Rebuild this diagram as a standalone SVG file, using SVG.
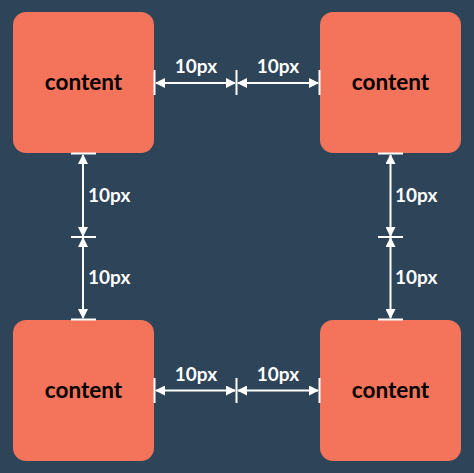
<svg xmlns="http://www.w3.org/2000/svg" width="474" height="473" viewBox="0 0 474 473">
<style>
.box{fill:#f3735b}
.lbl{font-family:Lato,"Noto Sans",sans-serif;font-weight:700;font-size:22.5px;fill:#000;text-anchor:middle}
.dim{font-family:Lato,"Noto Sans",sans-serif;font-weight:700;font-size:19px;fill:#fff}
.arr{stroke:#fff;stroke-width:2;fill:none;marker-start:url(#ah);marker-end:url(#ah)}
.tick{stroke:#fff;stroke-width:2}
</style>
<defs>
<marker id="ah" viewBox="0 0 10 10" refX="9" refY="5" markerWidth="10" markerHeight="10" markerUnits="userSpaceOnUse" orient="auto-start-reverse">
<path d="M0,0 L10,5 L0,10 z" fill="#fff"/>
</marker>
</defs>
<rect width="474" height="473" fill="#2e4458"/>
<g id="node-tl"><rect class="box" x="13" y="12" width="141" height="141" rx="13"/><text class="lbl" x="83.5" y="89.5">content</text></g>
<g id="node-tr"><rect class="box" x="320" y="12" width="141" height="141" rx="13"/><text class="lbl" x="390.5" y="89.5">content</text></g>
<g id="node-bl"><rect class="box" x="13" y="320" width="141" height="141" rx="13"/><text class="lbl" x="83.5" y="397.5">content</text></g>
<g id="node-br"><rect class="box" x="320" y="320" width="141" height="141" rx="13"/><text class="lbl" x="390.5" y="397.5">content</text></g>
<g id="connectors">
<line class="tick" x1="154.5" y1="70" x2="154.5" y2="95"/>
<line class="tick" x1="236.5" y1="70" x2="236.5" y2="95"/>
<line class="tick" x1="319.5" y1="70" x2="319.5" y2="95"/>
<line class="arr" x1="156" y1="83" x2="235" y2="83"/>
<line class="arr" x1="238" y1="83" x2="318" y2="83"/>
<line class="tick" x1="154.5" y1="378" x2="154.5" y2="403"/>
<line class="tick" x1="236.5" y1="378" x2="236.5" y2="403"/>
<line class="tick" x1="319.5" y1="378" x2="319.5" y2="403"/>
<line class="arr" x1="156" y1="390.5" x2="235" y2="390.5"/>
<line class="arr" x1="238" y1="390.5" x2="318" y2="390.5"/>
<line class="tick" x1="71" y1="153.5" x2="96" y2="153.5"/>
<line class="tick" x1="71" y1="237" x2="96" y2="237"/>
<line class="tick" x1="71" y1="319.5" x2="96" y2="319.5"/>
<line class="arr" x1="83" y1="155" x2="83" y2="236"/>
<line class="arr" x1="83" y1="238" x2="83" y2="318"/>
<line class="tick" x1="378" y1="153.5" x2="403" y2="153.5"/>
<line class="tick" x1="378" y1="237" x2="403" y2="237"/>
<line class="tick" x1="378" y1="319.5" x2="403" y2="319.5"/>
<line class="arr" x1="390.5" y1="155" x2="390.5" y2="236"/>
<line class="arr" x1="390.5" y1="238" x2="390.5" y2="318"/>
</g>
<g id="labels">
<text class="dim" x="196" y="73" text-anchor="middle">10px</text>
<text class="dim" x="278" y="73" text-anchor="middle">10px</text>
<text class="dim" x="196" y="381" text-anchor="middle">10px</text>
<text class="dim" x="278" y="381" text-anchor="middle">10px</text>
<text class="dim" x="88" y="202">10px</text>
<text class="dim" x="88" y="284">10px</text>
<text class="dim" x="395" y="202">10px</text>
<text class="dim" x="395" y="284">10px</text>
</g>
</svg>
